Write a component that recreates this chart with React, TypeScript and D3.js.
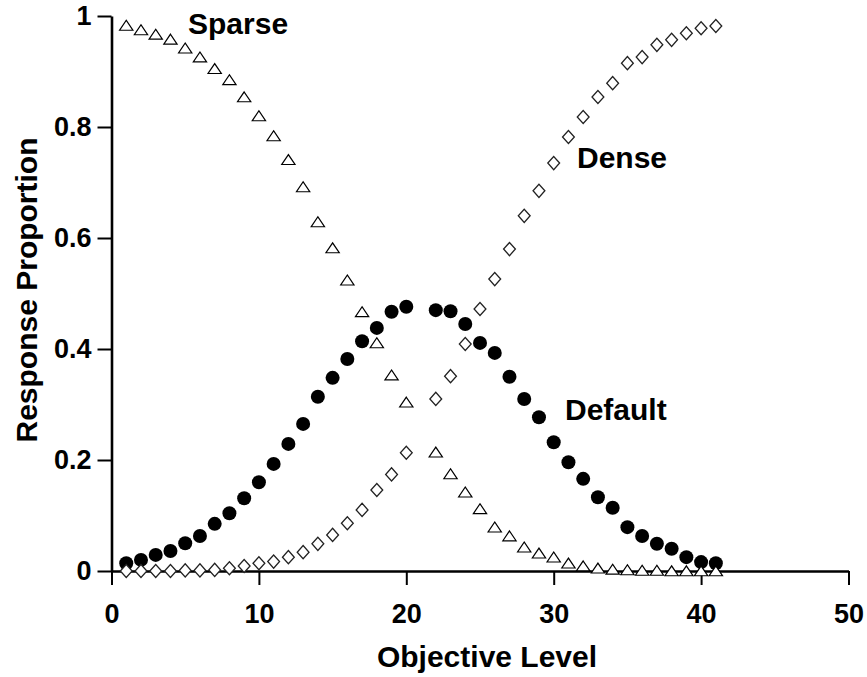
import React, { useEffect, useRef } from "react";
import * as d3 from "d3";

const levels = [1,2,3,4,5,6,7,8,9,10,11,12,13,14,15,16,17,18,19,20,22,23,24,25,26,27,28,29,30,31,32,33,34,35,36,37,38,39,40,41];
const defaultVals = [0.014,0.020,0.029,0.036,0.050,0.063,0.085,0.104,0.131,0.160,0.193,0.229,0.265,0.314,0.348,0.382,0.414,0.438,0.467,0.476,0.470,0.468,0.445,0.411,0.393,0.350,0.310,0.277,0.232,0.196,0.166,0.133,0.114,0.079,0.063,0.049,0.040,0.025,0.016,0.014];
const sparseVals = [0.983,0.975,0.967,0.958,0.942,0.926,0.905,0.885,0.854,0.820,0.784,0.741,0.692,0.629,0.582,0.524,0.467,0.411,0.353,0.304,0.214,0.175,0.142,0.112,0.079,0.063,0.043,0.032,0.025,0.014,0.009,0.005,0.003,0.002,0.001,0.001,0,0,0,0];
const denseVals = [0,0,0,0,0.001,0.001,0.002,0.005,0.009,0.014,0.017,0.025,0.034,0.049,0.065,0.086,0.110,0.146,0.174,0.213,0.310,0.351,0.409,0.472,0.526,0.580,0.640,0.685,0.735,0.782,0.818,0.854,0.879,0.915,0.926,0.948,0.957,0.969,0.978,0.982];
const xTicks = [0,10,20,30,40,50];
const yTicks = [0,0.2,0.4,0.6,0.8,1];
const xTitle = "Objective Level";
const yTitle = "Response Proportion";

const W = 867, H = 677;
const FONT = "'Liberation Sans', Arial, Helvetica, sans-serif";

export default function App() {
  const xRef = useRef<SVGGElement>(null);
  const yRef = useRef<SVGGElement>(null);
  const x = d3.scaleLinear().domain([0, 50]).range([111.5, 848.5]);
  const y = d3.scaleLinear().domain([0, 1]).range([571, 16]);

  useEffect(() => {
    const gx = d3.select(xRef.current!);
    gx.selectAll("*").remove();
    gx.call(d3.axisBottom(x).tickValues(xTicks).tickSize(14).tickSizeOuter(0).tickPadding(19).tickFormat((d) => String(d)));
    gx.select(".domain").attr("stroke-width", 2.6).attr("stroke", "#000");
    gx.selectAll(".tick line").attr("stroke-width", 2).attr("stroke", "#000");
    gx.selectAll(".tick text").attr("font-size", 27).attr("font-weight", "bold").attr("font-family", FONT).attr("fill", "#000");

    const gy = d3.select(yRef.current!);
    gy.selectAll("*").remove();
    gy.call(d3.axisLeft(y).tickValues(yTicks).tickSize(14).tickSizeOuter(0).tickPadding(6).tickFormat((d) => String(d)));
    gy.select(".domain").attr("stroke-width", 2.6).attr("stroke", "#000");
    gy.selectAll(".tick line").attr("stroke-width", 2).attr("stroke", "#000");
    gy.selectAll(".tick text").attr("font-size", 27).attr("font-weight", "bold").attr("font-family", FONT).attr("fill", "#000");
  }, []);

  const tri = d3.symbol().type(d3.symbolTriangle).size(70)();
  const dia = d3.symbol().type(d3.symbolDiamond).size(50)();

  return (
    <svg width={W} height={H} style={{ position: "absolute", left: 0, top: 0, background: "#fff" }}>
      <rect width={W} height={H} fill="#fff" />
      <g ref={xRef} transform={`translate(0,${y(0)})`} />
      <g ref={yRef} transform={`translate(${x(0)},0)`} />
      <g>
        {levels.map((l, i) => (
          <circle key={"d" + i} cx={x(l)} cy={y(defaultVals[i])} r={7} fill="#000" />
        ))}
      </g>
      <g>
        {levels.map((l, i) => (
          <path key={"s" + i} d={tri!} transform={`translate(${x(l)},${y(sparseVals[i]) + 1.5}) scale(1.05,0.9)`} fill="#fff" stroke="#000" strokeWidth={1.2} />
        ))}
      </g>
      <g>
        {levels.map((l, i) => (
          <path key={"n" + i} d={dia!} transform={`translate(${x(l)},${y(denseVals[i])}) rotate(0) scale(1.55,1)`} fill="#fff" stroke="#222" strokeWidth={1} />
        ))}
      </g>
      <g fontFamily={FONT} fontWeight="bold" fontSize={30} fill="#000">
        <text x={188} y={34}>Sparse</text>
        <text x={577} y={168}>Dense</text>
        <text x={565} y={420}>Default</text>
        <text x={487} y={667} textAnchor="middle">{xTitle}</text>
        <text transform={`translate(37,290) rotate(-90)`} textAnchor="middle">{yTitle}</text>
      </g>
    </svg>
  );
}
